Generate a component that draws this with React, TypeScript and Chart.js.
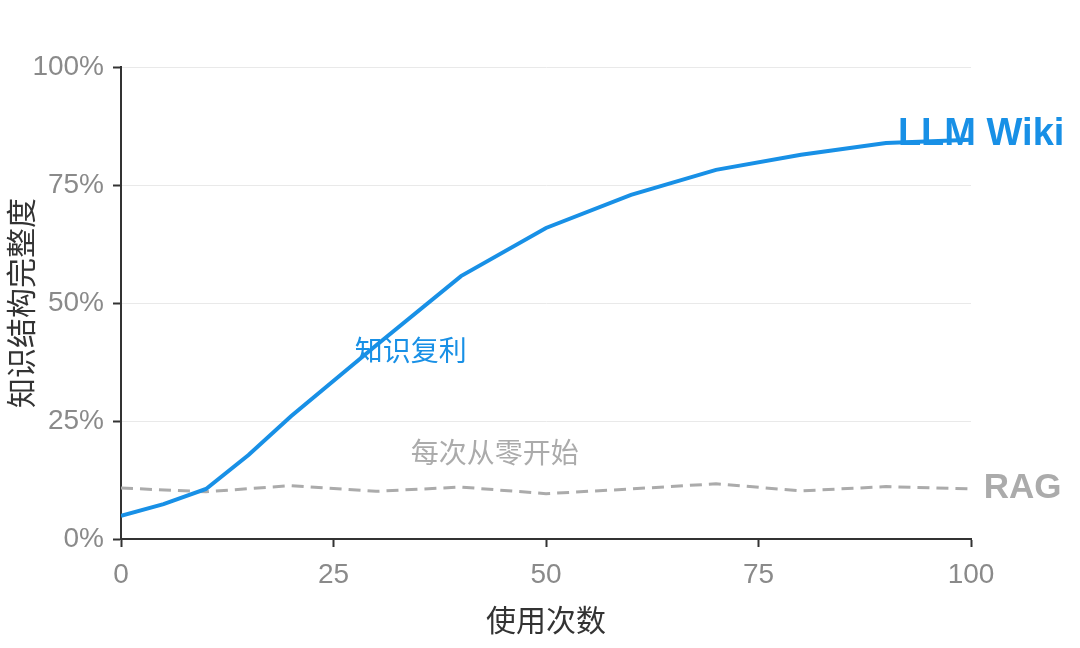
import React, { useEffect, useRef } from "react";
import { Chart, registerables } from "chart.js";

Chart.register(...registerables);

const wikiX = [0, 5, 10, 15, 20, 30, 40, 50, 60, 70, 80, 90, 100];
const wikiY = [4.9, 7.4, 10.6, 17.8, 26, 41, 55.7, 65.9, 72.9, 78.2, 81.4, 83.9, 84.6];
const ragX = [0, 10, 20, 30, 40, 50, 60, 70, 80, 90, 100];
const ragY = [10.8, 10.0, 11.3, 10.1, 11.0, 9.6, 10.6, 11.7, 10.2, 11.1, 10.6];
const xTicks = [0, 25, 50, 75, 100];
const yTicks = [0, 25, 50, 75, 100];
const xTitle = "使用次数";
const yTitle = "知识结构完整度";
const wikiLabel = "LLM Wiki";
const ragLabel = "RAG";
const wikiNote = "知识复利";
const ragNote = "每次从零开始";

const BLUE = "#1890e6";
const GRAY = "#ababab";
const FONT = "'Noto Sans CJK SC', 'Noto Sans', sans-serif";
const LATIN = "'Liberation Sans', 'Noto Sans CJK SC', sans-serif";

const labelsPlugin = {
  id: "labels",
  afterDatasetsDraw(chart: any) {
    const { ctx, scales } = chart;
    const xs = scales.x;
    const ys = scales.y;
    const items = [
      { t: wikiLabel, x: 91.4, y: 85.6, c: BLUE, f: `700 38px ${LATIN}` },
      { t: ragLabel, x: 101.5, y: 10.8, c: GRAY, f: `700 35px ${LATIN}` },
      { t: wikiNote, x: 27.5, y: 40, c: BLUE, f: `400 28px ${FONT}` },
      { t: ragNote, x: 34.1, y: 18.4, c: GRAY, f: `400 28px ${FONT}` },
    ];
    ctx.save();
    ctx.textAlign = "left";
    ctx.textBaseline = "middle";
    for (const it of items) {
      ctx.font = it.f;
      ctx.fillStyle = it.c;
      ctx.fillText(it.t, xs.getPixelForValue(it.x), ys.getPixelForValue(it.y));
    }
    ctx.restore();
  },
};

export default function App() {
  const ref = useRef<HTMLCanvasElement>(null);
  useEffect(() => {
    if (!ref.current) return;
    const chart = new Chart(ref.current, {
      type: "line",
      data: {
        datasets: [
          {
            label: wikiLabel,
            data: wikiX.map((x, i) => ({ x, y: wikiY[i] })),
            borderColor: BLUE,
            borderWidth: 4,
            pointRadius: 0,
            tension: 0,
            fill: false,
          },
          {
            label: ragLabel,
            data: ragX.map((x, i) => ({ x, y: ragY[i] })),
            borderColor: GRAY,
            borderWidth: 3,
            borderDash: [12, 7],
            pointRadius: 0,
            tension: 0,
            fill: false,
          },
        ],
      },
      options: {
        animation: false,
        responsive: false,
        maintainAspectRatio: false,
        layout: { padding: { left: 0, right: 109, top: 67, bottom: 0 } },
        plugins: { legend: { display: false }, tooltip: { enabled: false } },
        scales: {
          x: {
            type: "linear",
            min: 0,
            max: 100,
            afterBuildTicks: (s: any) => {
              s.ticks = xTicks.map((v) => ({ value: v }));
            },
            afterFit: (s: any) => {
              s.height = 109;
            },
            ticks: {
              color: "#8a8a8a",
              font: { family: LATIN, size: 28 },
              padding: 11,
            },
            grid: {
              display: true,
              drawOnChartArea: false,
              drawTicks: true,
              tickLength: 8,
              tickColor: "#333",
              tickWidth: 2,
            },
            border: { display: true, color: "#333", width: 2 },
            title: {
              display: true,
              text: xTitle,
              color: "#333",
              font: { family: FONT, size: 30 },
              padding: { top: 0, bottom: 10 },
            },
          },
          y: {
            type: "linear",
            min: 0,
            max: 100,
            afterBuildTicks: (s: any) => {
              s.ticks = yTicks.map((v) => ({ value: v }));
            },
            afterFit: (s: any) => {
              s.width = 121;
            },
            ticks: {
              color: "#8a8a8a",
              font: { family: LATIN, size: 28 },
              padding: 9,
              callback: (v: any) => `${v}%`,
            },
            grid: {
              display: true,
              color: "#e9e9e9",
              lineWidth: 1,
              drawTicks: true,
              tickLength: 8,
              tickColor: "#333",
              tickWidth: 2,
            },
            border: { display: true, color: "#333", width: 2 },
            title: {
              display: true,
              text: yTitle,
              color: "#333",
              font: { family: FONT, size: 30 },
              padding: { top: 3, bottom: 0 },
            },
          },
        },
      },
      plugins: [labelsPlugin],
    } as any);
    return () => chart.destroy();
  }, []);
  return (
    <div style={{ position: "absolute", left: 0, top: 0, width: 1080, height: 648, background: "#fff" }}>
      <canvas ref={ref} width={1080} height={648} style={{ width: 1080, height: 648, display: "block" }} />
    </div>
  );
}
